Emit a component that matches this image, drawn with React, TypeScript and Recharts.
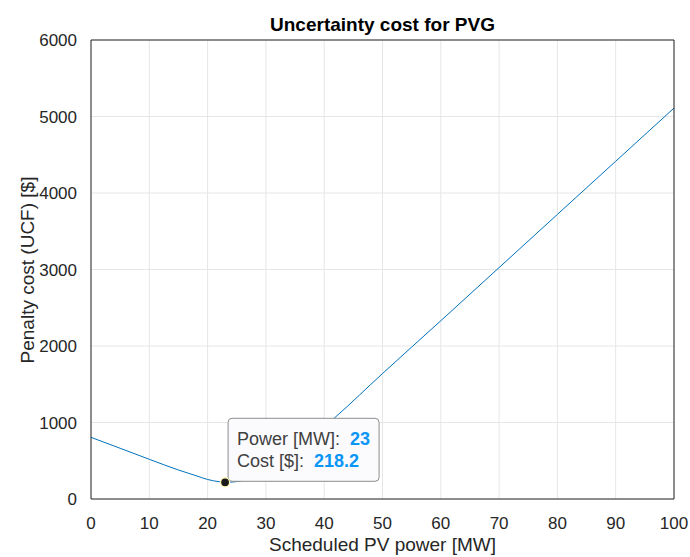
import React from "react";
import {
  LineChart,
  Line,
  XAxis,
  YAxis,
  CartesianGrid,
  ReferenceDot,
} from "recharts";

// scheduled PV power [MW] and penalty cost [$]
const powerMW = [0, 5, 10, 15, 18, 20, 22, 23, 24, 25, 27, 30, 33, 35, 38, 40, 42, 50, 60, 70, 80, 90, 100];
const costUSD = [806, 663, 519, 379, 305, 255, 226, 218.2, 220, 228, 258, 335, 470, 600, 800, 945, 1076, 1640, 2330, 3025, 3720, 4415, 5110];

const xTicks = [0, 10, 20, 30, 40, 50, 60, 70, 80, 90, 100];
const yTicks = [0, 1000, 2000, 3000, 4000, 5000, 6000];

const tipPower = 23;
const tipCost = 218.2;

const data = powerMW.map((p, i) => ({ p, c: costUSD[i] }));

const FONT = "'Liberation Sans', Arial, Helvetica, sans-serif";
const AXIS = "#262626";

// MATLAB-style data tip: dot on the curve plus a box to the upper right
function DataTip(props: any) {
  const { cx, cy } = props;
  if (cx == null || cy == null) return null;
  const bx = cx + 3;
  const by = cy - 64;
  return (
    <g>
      <rect
        x={bx}
        y={by}
        width={151}
        height={63}
        rx={4}
        fill="#fbfbfe"
        stroke="#8c8c8c"
        strokeWidth={1}
      />
      <text x={bx + 9} y={by + 27} fontFamily={FONT} fontSize={18} fill="#404040">
        Power [MW]:
      </text>
      <text x={bx + 122} y={by + 27} fontFamily={FONT} fontSize={18} fontWeight="bold" fill="#0a96f5">
        {tipPower}
      </text>
      <text x={bx + 9} y={by + 49} fontFamily={FONT} fontSize={18} fill="#404040">
        Cost [$]:
      </text>
      <text x={bx + 86} y={by + 49} fontFamily={FONT} fontSize={18} fontWeight="bold" fill="#0a96f5">
        {tipCost}
      </text>
      <circle cx={cx} cy={cy} r={4.5} fill="#1a1a1a" stroke="#fffbb0" strokeWidth={1.2} />
    </g>
  );
}

// mirrored axes only draw the box edge and the inward tick marks
const boxAxis = { stroke: AXIS, mirror: true, tickSize: 5, tick: false as const };

export default function App() {
  return (
    <div style={{ position: "absolute", left: 0, top: 0, width: 690, height: 557, background: "#fff" }}>
      <LineChart
        width={690}
        height={557}
        data={data}
        margin={{ top: 40, right: 16, bottom: 0, left: 0 }}
      >
        <text x={382.5} y={31} textAnchor="middle" fontFamily={FONT} fontSize={19} fontWeight="bold" fill="#000">
          Uncertainty cost for PVG
        </text>
        <text x={382.5} y={551} textAnchor="middle" fontFamily={FONT} fontSize={19} fill={AXIS}>
          Scheduled PV power [MW]
        </text>
        <text
          x={34}
          y={270}
          transform="rotate(-90 34 270)"
          textAnchor="middle"
          fontFamily={FONT}
          fontSize={19}
          fill={AXIS}
        >
          Penalty cost (UCF) [$]
        </text>
        <CartesianGrid xAxisId="b" yAxisId="l" stroke="#e6e6e6" strokeWidth={1} />
        <XAxis
          xAxisId="b"
          dataKey="p"
          type="number"
          domain={[0, 100]}
          ticks={xTicks}
          interval={0}
          height={58}
          axisLine={false}
          tickLine={false}
          tickMargin={12}
          tick={{ fill: AXIS, fontSize: 17, fontFamily: FONT }}
        />
        <XAxis xAxisId="bm" dataKey="p" type="number" domain={[0, 100]} ticks={xTicks} height={1} {...boxAxis} />
        <XAxis xAxisId="t" orientation="top" dataKey="p" type="number" domain={[0, 100]} ticks={xTicks} height={1} {...boxAxis} />
        <YAxis
          yAxisId="l"
          type="number"
          domain={[0, 6000]}
          ticks={yTicks}
          interval={0}
          width={91}
          axisLine={false}
          tickLine={false}
          tickMargin={8}
          tick={{ fill: AXIS, fontSize: 17, fontFamily: FONT }}
        />
        <YAxis yAxisId="lm" type="number" domain={[0, 6000]} ticks={yTicks} width={1} {...boxAxis} />
        <YAxis yAxisId="r" orientation="right" type="number" domain={[0, 6000]} ticks={yTicks} width={1} {...boxAxis} />
        <Line
          xAxisId="b"
          yAxisId="l"
          type="monotone"
          dataKey="c"
          stroke="#0072BD"
          strokeWidth={1}
          dot={false}
          isAnimationActive={false}
        />
        <ReferenceDot
          xAxisId="b"
          yAxisId="l"
          x={tipPower}
          y={tipCost}
          shape={DataTip}
          ifOverflow="visible"
        />
      </LineChart>
    </div>
  );
}
